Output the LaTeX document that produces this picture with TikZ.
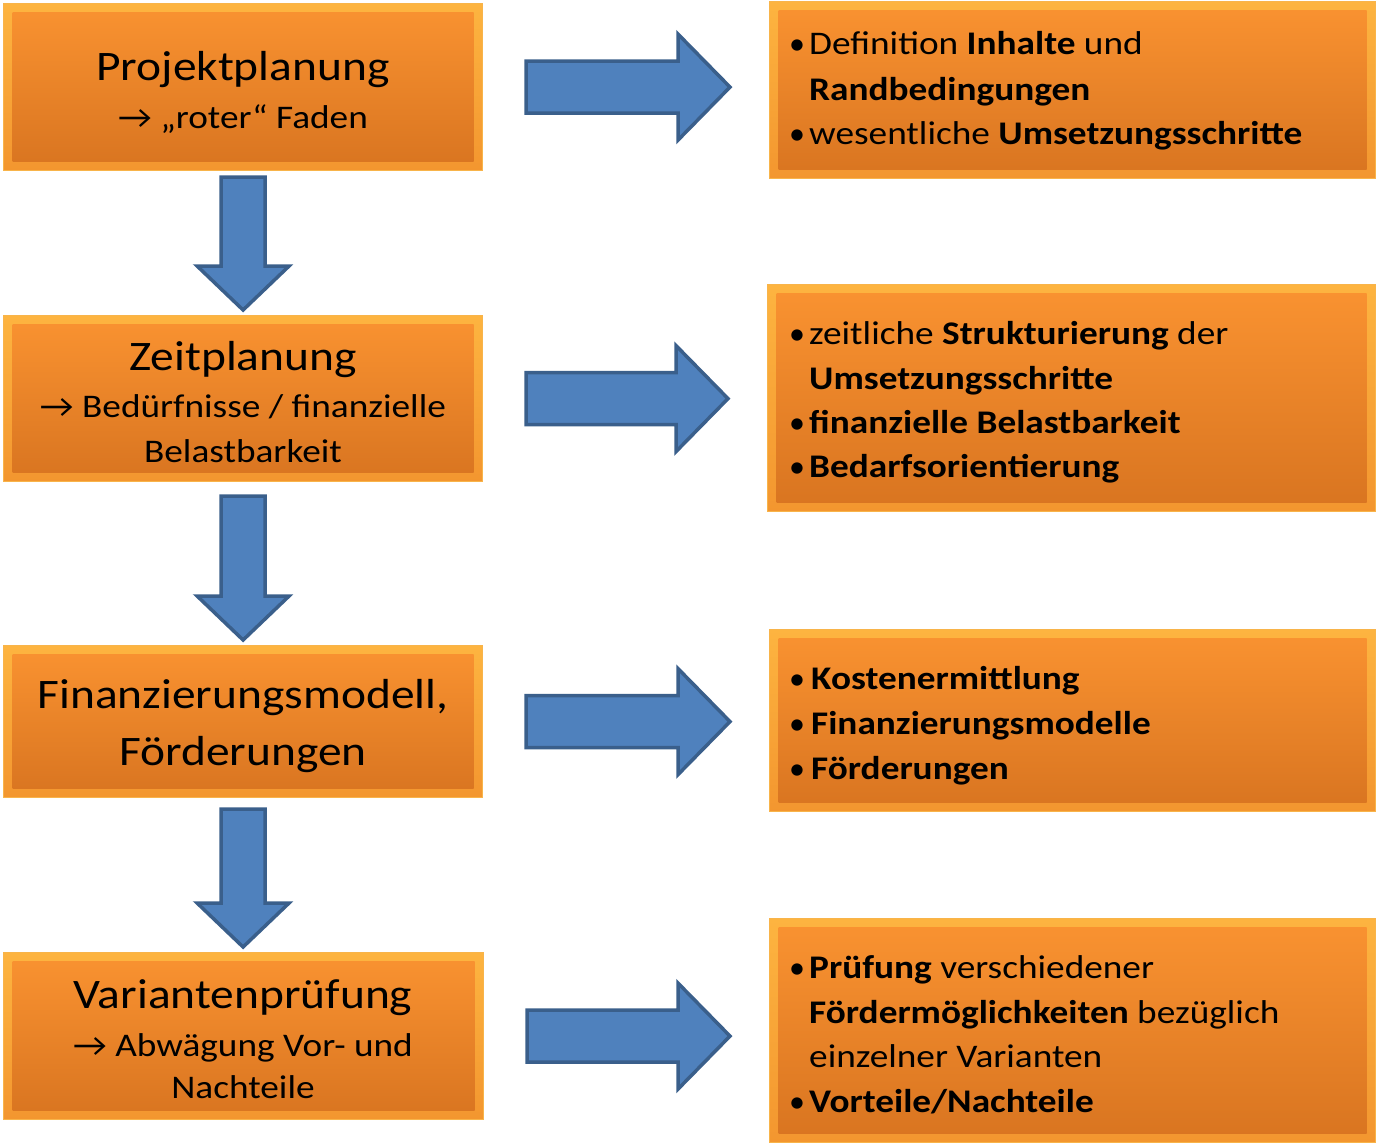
\documentclass[tikz,border=0pt]{standalone}
\usepackage{fontspec}
\setmainfont{Carlito}[FakeStretch=1.13]
\newfontfamily\bulfont{Carlito}
\usetikzlibrary{calc}
\definecolor{orEdge}{HTML}{F8B44A}
\definecolor{orOutT}{HTML}{FDB440}
\definecolor{orOutB}{HTML}{F3962F}
\definecolor{orInT}{HTML}{FA9331}
\definecolor{orInB}{HTML}{D87420}
\definecolor{blFill}{HTML}{4F81BD}
\definecolor{blDraw}{HTML}{3A5F8B}
\tikzset{
  obox/.style={draw=orEdge, line width=1.2pt, top color=orOutT, bottom color=orOutB,
    anchor=north west, inner sep=0pt,
    path picture={\shade[top color=orInT, bottom color=orInB]
      ([shift={(9pt,-9pt)}]path picture bounding box.north west) rectangle
      ([shift={(-9pt,9pt)}]path picture bounding box.south east);}},
  barrow/.style={fill=blFill, draw=blDraw, line width=3.5pt, line join=miter},
  ttl/.style={font=\fontsize{42}{50}\selectfont, inner sep=0pt, anchor=base},
  sub/.style={font=\fontsize{33}{40}\selectfont, inner sep=0pt, anchor=base},
  rt/.style={font=\fontsize{33}{40}\selectfont, inner sep=0pt, anchor=base west},
  bul/.style={font=\bulfont\fontsize{32}{40}\selectfont, inner sep=0pt, anchor=base},
}
\newcommand\myrarr[2]{\draw[barrow] let \p1=(#1.east), \p2=(#2.west) in
  (\x1+43pt,\y1+26pt) -- (\x2-91pt,\y1+26pt) -- (\x2-91pt,\y1+53pt) -- (\x2-39pt,\y1)
  -- (\x2-91pt,\y1-53pt) -- (\x2-91pt,\y1-26pt) -- (\x1+43pt,\y1-26pt) -- cycle;}
\newcommand\mydarr[3]{\draw[barrow] let \p1=(#1.south), \p2=(#2.north) in
  (\x1-22pt,\y1-#3) -- (\x1-22pt,\y2+49pt) -- (\x1-46pt,\y2+49pt) -- (\x1,\y2+5pt)
  -- (\x1+46pt,\y2+49pt) -- (\x1+22pt,\y2+49pt) -- (\x1+22pt,\y1-#3) -- cycle;}
\begin{document}
\begin{tikzpicture}[x=1pt,y=-1pt]
\useasboundingbox (0,0) rectangle (1377,1143);
% left boxes
\node[obox, minimum width=479pt, minimum height=167pt] (L1) at (3,3) {};
\node[obox, minimum width=479pt, minimum height=166pt] (L2) at (3,315) {};
\node[obox, minimum width=479pt, minimum height=152pt] (L3) at (3,645) {};
\node[obox, minimum width=480pt, minimum height=167pt] (L4) at (3,952) {};
% right boxes
\node[obox, minimum width=606pt, minimum height=177pt] (R1) at (769,1) {};
\node[obox, minimum width=608pt, minimum height=227pt] (R2) at (767,284) {};
\node[obox, minimum width=606pt, minimum height=182pt] (R3) at (769,629) {};
\node[obox, minimum width=606pt, minimum height=224pt] (R4) at (769,918) {};
% arrows
\mydarr{L1}{L2}{6pt}
\mydarr{L2}{L3}{14pt}
\mydarr{L3}{L4}{11pt}
\myrarr{L1}{R1}
\myrarr{L2}{R2}
\myrarr{L3}{R3}
\myrarr{L4}{R4}
% left texts
\node[ttl] (t1) at (243,80) {Projektplanung};
\node[sub] (t1b) at (243,128) {→ „roter“ Faden};
\node[ttl] (t2) at (243,370) {Zeitplanung};
\node[sub] (t2b) at (243,417) {→ Bedürfnisse / finanzielle};
\node[sub] (t2c) at (243,462) {Belastbarkeit};
\node[ttl] (t3) at (243,708) {Finanzierungsmodell,};
\node[ttl] (t3b) at (243,765) {Förderungen};
\node[ttl] (t4) at (243,1008) {Variantenprüfung};
\node[sub] (t4b) at (243,1056) {→ Abwägung Vor- und};
\node[sub] (t4c) at (243,1098) {Nachteile};
% right texts
\node[bul] (b1a) at (797,54) {•};
\node[rt] (r1a) at (809,54) {Definition \textbf{Inhalte} und};
\node[rt] (r1b) at (809,100) {\textbf{Randbedingungen}};
\node[bul] (b1b) at (797,144) {•};
\node[rt] (r1c) at (809,144) {wesentliche \textbf{Umsetzungsschritte}};
\node[bul] (b2a) at (797,344) {•};
\node[rt] (r2a) at (809,344) {zeitliche \textbf{Strukturierung} der};
\node[rt] (r2b) at (809,389) {\textbf{Umsetzungsschritte}};
\node[bul] (b2b) at (797,433) {•};
\node[rt] (r2c) at (809,433) {\textbf{finanzielle Belastbarkeit}};
\node[bul] (b2c) at (797,477) {•};
\node[rt] (r2d) at (809,477) {\textbf{Bedarfsorientierung}};
\node[bul] (b3a) at (797,689) {•};
\node[rt] (r3a) at (811,689) {\textbf{Kostenermittlung}};
\node[bul] (b3b) at (797,734) {•};
\node[rt] (r3b) at (811,734) {\textbf{Finanzierungsmodelle}};
\node[bul] (b3c) at (797,779) {•};
\node[rt] (r3c) at (811,779) {\textbf{Förderungen}};
\node[bul] (b4a) at (797,978) {•};
\node[rt] (r4a) at (809,978) {\textbf{Prüfung} verschiedener};
\node[rt] (r4b) at (809,1023) {\textbf{Fördermöglichkeiten} bezüglich};
\node[rt] (r4c) at (809,1067) {einzelner Varianten};
\node[bul] (b4b) at (797,1112) {•};
\node[rt] (r4d) at (809,1112) {\textbf{Vorteile/Nachteile}};
\end{tikzpicture}
\end{document}
